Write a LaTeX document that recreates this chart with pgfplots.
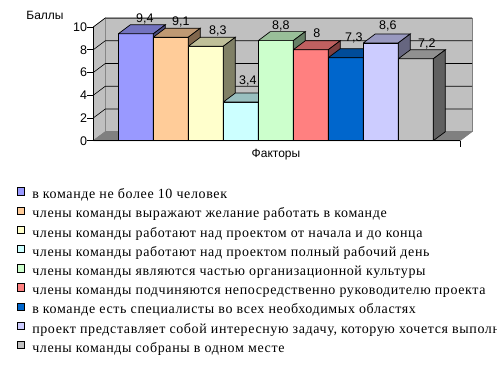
\documentclass[border=0pt]{standalone}
\usepackage{fontspec}
\setmainfont{Liberation Serif}
\newfontfamily\legfont[LetterSpace=4.4]{Liberation Serif}
\newfontfamily\arial{Liberation Sans}
\usepackage{pgfplots}
\pgfplotsset{compat=1.18}
\definecolor{cA}{HTML}{9999FF}
\definecolor{cB}{HTML}{FFCC99}
\definecolor{cC}{HTML}{FFFFCC}
\definecolor{cD}{HTML}{CCFFFF}
\definecolor{cE}{HTML}{CCFFCC}
\definecolor{cF}{HTML}{FF8080}
\definecolor{cG}{HTML}{0066CC}
\definecolor{cH}{HTML}{CCCCFF}
\definecolor{cI}{HTML}{C0C0C0}
\definecolor{wall}{HTML}{C0C0C0}
\definecolor{floorc}{HTML}{808080}
\def\dx{0.343}
\def\dy{0.79}
% #1 x, #2 value, #3 colour, #4 label xshift, #5 label yshift, #6 legend text
\newcommand{\tdbar}[6]{%
  \addplot[ybar, bar width=1, bar shift=0, fill=#3, draw=black, line width=0.7bp,
    legend image code/.code={\draw[fill=#3, draw=black, line width=0.6bp] (0bp,0bp) rectangle (7.5bp,7.5bp);},
    nodes near coords,
    nodes near coords style={font=\arial\fontsize{12.5bp}{14bp}\selectfont, anchor=center, xshift=#4bp, yshift=#5bp, inner sep=0pt}]
    coordinates {(#1,#2)};
  \addlegendentry{#6}
  \pgfmathsetmacro\xl{#1-0.5}\pgfmathsetmacro\xr{#1+0.5}%
  \pgfmathsetmacro\xlb{#1-0.5+\dx}\pgfmathsetmacro\xrb{#1+0.5+\dx}%
  \pgfmathsetmacro\vt{#2+\dy}%
  \edef\temp{\noexpand\addplot[forget plot, fill=#3!75!black, draw=black, line width=0.7bp]
    coordinates {(\xl,#2) (\xr,#2) (\xrb,\vt) (\xlb,\vt) (\xl,#2)};}\temp
  \edef\temp{\noexpand\addplot[forget plot, fill=#3!50!black, draw=black, line width=0.7bp]
    coordinates {(\xr,0) (\xrb,\dy) (\xrb,\vt) (\xr,#2) (\xr,0)};}\temp
}
\begin{document}
\begin{tikzpicture}
\useasboundingbox (0,0) rectangle (497bp,367bp);
\begin{axis}[
  at={(93.3bp,226.3bp)}, anchor=south west,
  scale only axis, width=378.7bp, height=122.7bp,
  xmin=-1.214, xmax=9.606, ymin=0, ymax=10.79,
  axis line style={draw=none},
  xtick={9.263}, xticklabels={}, xtick pos=bottom,
  ytick={0,2,4,6,8,10}, ytick pos=left, tick align=outside,
  major tick length=6bp,
  tick style={black, line width=0.8bp},
  yticklabel style={font=\arial\fontsize{12.5bp}{14bp}\selectfont, inner sep=1bp, xshift=1bp},
  /pgf/number format/assume math mode=true,
  /pgf/number format/use comma,
  clip=false,
  legend cell align=left,
  legend style={at={(axis description cs:-0.2023,-0.3798)}, anchor=north west,
    draw=none, fill=none, inner sep=0pt, outer sep=0pt, row sep=4.9bp,
    font=\legfont\fontsize{14bp}{16bp}\selectfont,
    nodes={inner sep=0pt, text height=10bp, text depth=3bp},
    /tikz/every odd column/.style={column sep=7.5bp}},
]
% walls and floor
\addplot[forget plot, fill=wall, draw=floorc, line width=0.6bp] coordinates {(-0.871,0.79) (9.606,0.79) (9.606,10.79) (-0.871,10.79) (-0.871,0.79)};
\addplot[forget plot, fill=wall, draw=floorc, line width=0.6bp] coordinates {(-1.214,0) (-0.871,0.79) (-0.871,10.79) (-1.214,10) (-1.214,0)};
\addplot[forget plot, fill=floorc, draw=floorc, line width=0.6bp] coordinates {(-1.214,0) (9.263,0) (9.606,0.79) (-0.871,0.79) (-1.214,0)};
% gridlines
\addplot[forget plot, black, line width=0.6bp] coordinates {(-1.214,2) (-0.871,2.79) (9.606,2.79)};
\addplot[forget plot, black, line width=0.6bp] coordinates {(-1.214,4) (-0.871,4.79) (9.606,4.79)};
\addplot[forget plot, black, line width=0.6bp] coordinates {(-1.214,6) (-0.871,6.79) (9.606,6.79)};
\addplot[forget plot, black, line width=0.6bp] coordinates {(-1.214,8) (-0.871,8.79) (9.606,8.79)};
\addplot[forget plot, black, line width=0.6bp] coordinates {(-1.214,10) (-0.871,10.79) (9.606,10.79)};
% front edges
\addplot[forget plot, black, line width=0.8bp] coordinates {(-1.214,10) (-1.214,0) (9.263,0)};
% bars
\tdbar{0}{9.4}{cA}{9}{14.8}{в команде не более 10 человек}
\tdbar{1}{9.1}{cB}{10}{14.9}{члены команды выражают желание работать в команде}
\tdbar{2}{8.3}{cC}{12}{15.6}{члены команды работают над проектом от начала и до конца}
\tdbar{3}{3.4}{cD}{7}{21}{члены команды работают над проектом полный рабочий день}
\tdbar{4}{8.8}{cE}{5}{15}{члены команды являются частью организационной культуры}
\tdbar{5}{8}{cF}{6}{16.4}{члены команды подчиняются непосредственно руководителю проекта}
\tdbar{6}{7.3}{cG}{8}{19.4}{в команде есть специалисты во всех необходимых областях}
\tdbar{7}{8.6}{cH}{7}{17}{проект представляет собой интересную задачу, которую хочется выполнить}
\tdbar{8}{7.2}{cI}{11}{14.5}{члены команды собраны в одном месте}
\end{axis}
\node[font=\arial\fontsize{12bp}{14bp}\selectfont] at (45bp,352bp) {Баллы};
\node[font=\arial\fontsize{12bp}{14bp}\selectfont] at (276bp,212bp) {Факторы};
\end{tikzpicture}
\end{document}
